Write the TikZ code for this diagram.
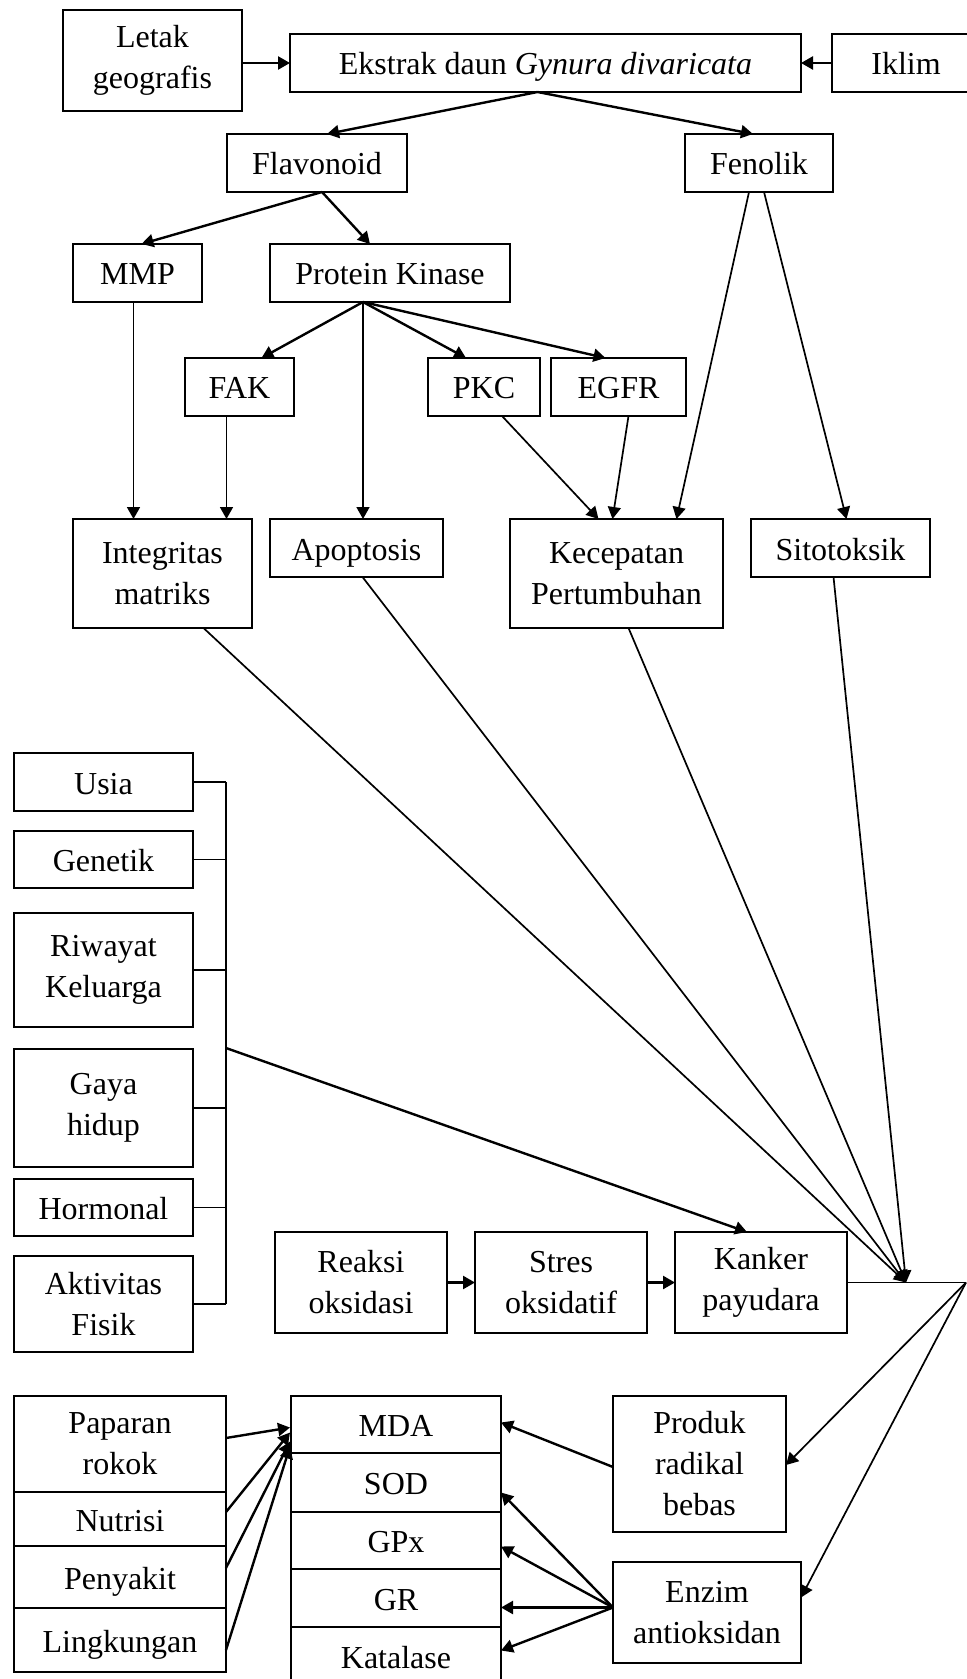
\documentclass[tikz,border=0pt]{standalone}
\usepackage{fontspec}
\setmainfont{Liberation Serif}
\usetikzlibrary{arrows.meta,calc}
\newcommand\bx[7][]{\node[box,#1,minimum width={(#5-#3)*0.5pt},minimum height={(#6-#4)*0.5pt}] (#2) at ({(#3+#5)/2},{(#4+#6)/2}) {#7};}
\begin{document}
\begin{tikzpicture}[x=0.5pt,y=-0.5pt,
  box/.style={draw,line width=0.9pt,inner sep=0pt,outer sep=0pt,align=center,font=\fontsize{16}{20.5}\selectfont},
  sl/.style={text height=13pt,text depth=1pt},
  arr/.style={line width=1.2pt,-{Triangle[length=6pt,width=6.5pt]}},
  tarr/.style={line width=0.85pt,-{Triangle[length=6pt,width=6.5pt]}},
  ln/.style={line width=0.85pt}]
\useasboundingbox (0,0) rectangle (967,1679);
\clip (0,0) rectangle (967,1679);
% boxes
\bx{letak}{63}{10}{242}{111}{Letak\\geografis}
\bx[sl]{ekstrak}{290}{34}{801}{92}{Ekstrak daun \textit{Gynura divaricata}}
\bx[sl]{iklim}{832}{34}{980}{92}{Iklim}
\bx[sl]{flav}{227}{134}{407}{192}{Flavonoid}
\bx[sl]{fenol}{685}{134}{833}{192}{Fenolik}
\bx[sl]{mmp}{73}{244}{202}{302}{MMP}
\bx[sl]{pk}{270}{244}{510}{302}{Protein Kinase}
\bx[sl]{fak}{185}{358}{294}{416}{FAK}
\bx[sl]{pkc}{428}{358}{540}{416}{PKC}
\bx[sl]{egfr}{551}{358}{686}{416}{EGFR}
\bx{integ}{73}{519}{252}{628}{Integritas\\matriks}
\bx[sl]{apop}{270}{519}{443}{577}{Apoptosis}
\bx{kecep}{510}{519}{723}{628}{Kecepatan\\Pertumbuhan}
\bx[sl]{sito}{751}{519}{930}{577}{Sitotoksik}
\bx[sl]{usia}{14}{753}{193}{811}{Usia}
\bx[sl]{genet}{14}{831}{193}{888}{Genetik}
\bx{riwayat}{14}{913}{193}{1027}{Riwayat\\Keluarga}
\bx{gaya}{14}{1049}{193}{1167}{Gaya\\hidup}
\bx[sl]{hormonal}{14}{1179}{193}{1236}{Hormonal}
\bx{aktiv}{14}{1256}{193}{1352}{Aktivitas\\Fisik}
\bx{reaksi}{275}{1232}{447}{1333}{Reaksi\\oksidasi}
\bx{stres}{475}{1232}{647}{1333}{Stres\\oksidatif}
\bx{kanker}{675}{1232}{847}{1333}{Kanker\\payudara}
\bx{paparan}{14}{1396}{226}{1492}{Paparan\\rokok}
\bx[sl]{nutrisi}{14}{1492}{226}{1546}{Nutrisi}
\bx[sl]{penyakit}{14}{1546}{226}{1608}{Penyakit}
\bx[sl]{lingk}{14}{1608}{226}{1672}{Lingkungan}
\bx[sl]{mda}{291}{1396}{501}{1453}{MDA}
\bx[sl]{sod}{291}{1453}{501}{1512}{SOD}
\bx[sl]{gpx}{291}{1512}{501}{1569}{GPx}
\bx[sl]{gr}{291}{1569}{501}{1627}{GR}
\bx[sl]{katal}{291}{1627}{501}{1686}{Katalase}
\bx{produk}{613}{1396}{786}{1532}{Produk\\radikal\\bebas}
\bx{enzim}{613}{1562}{801}{1663}{Enzim\\antioksidan}
% top arrows
\draw[arr] (letak.east |- ekstrak.west) -- (ekstrak.west);
\draw[arr] (iklim.west) -- (ekstrak.east);
\coordinate (eks) at ($(ekstrak.south)+(-8,0)$);
\draw[arr] (eks) -- ($(flav.north)+(10,0)$);
\draw[arr] (eks) -- ($(fenol.north)+(-6,0)$);
\coordinate (fls) at ($(flav.south)+(5,0)$);
\draw[arr] (fls) -- ($(mmp.north)+(4,0)$);
\draw[arr] (fls) -- ($(pk.north)+(-20,0)$);
\coordinate (pks) at ($(pk.south)+(-27,0)$);
\draw[arr] (pks) -- ($(fak.north)+(22,0)$);
\draw[arr] (pks) -- ($(pkc.north)+(-18,0)$);
\draw[arr] (pks) -- ($(egfr.north)+(-13,0)$);
\draw[tarr] (pks) -- (pks |- apop.north);
\coordinate (mms) at ($(mmp.south)+(-4,0)$);
\draw[tarr] (mms) -- (mms |- integ.north);
\coordinate (fks) at ($(fak.south)+(-13,0)$);
\draw[tarr] (fks) -- (fks |- integ.north);
\draw[tarr] ($(fenol.south)+(-10,0)$) -- ($(kecep.north)+(60,0)$);
\draw[tarr] ($(fenol.south)+(5,0)$) -- ($(sito.north)+(6,0)$);
\draw[tarr] ($(pkc.south)+(18,0)$) -- ($(kecep.north)+(-18,0)$);
\draw[tarr] ($(egfr.south)+(10,0)$) -- ($(kecep.north)+(-4,0)$);
% convergence
\coordinate (C) at ($(kanker.east)+(59,0)$);
\coordinate (R) at ($(kanker.east)+(119,0)$);
\draw[tarr] ($(integ.south)+(41,0)$) -- (C);
\draw[tarr] ($(apop.south)+(6,0)$) -- (C);
\draw[tarr] ($(kecep.south)+(12,0)$) -- (C);
\draw[tarr] ($(sito.south)+(-7,0)$) -- (C);
\draw[ln] (kanker.east) -- (R);
\draw[tarr] (R) -- ($(produk.east)+(0,1)$);
\draw[tarr] (R) -- ($(enzim.east)+(0,-15)$);
% bracket
\coordinate (bt) at (usia.east -| 226,0);
\coordinate (bb) at (aktiv.east -| 226,0);
\draw[ln] (bt) -- (bb);
\foreach \n in {usia,genet,riwayat,gaya,hormonal,aktiv}
  \draw[ln] (\n.east) -- (\n.east -| bt);
\coordinate (B) at (bt |- 0,1048);
\draw[arr] (B) -- ($(kanker.north)+(-14,0)$);
% middle row
\draw[arr] (reaksi.east) -- (stres.west);
\draw[arr] (stres.east) -- (kanker.west);
% bottom left
\draw[arr] ($(paparan.east)+(0,-6)$) -- ($(mda.west)+(-1,3)$);
\draw[arr] ($(nutrisi.north east)+(0,20)$) -- ($(mda.west)+(-1,8)$);
\draw[arr] ($(penyakit.north east)+(0,22)$) -- ($(mda.west)+(-1,17)$);
\draw[arr] ($(lingk.east)+(0,10)$) -- ($(mda.west)+(-1,22)$);
% bottom right
\draw[arr] ($(produk.west)+(0,3)$) -- ($(mda.east)+(0,-2)$);
\coordinate (E) at ($(enzim.west)+(0,-5)$);
\draw[arr] (E) -- ($(sod.east)+(0,10)$);
\draw[arr] (E) -- ($(gpx.east)+(0,6)$);
\draw[arr] (E) -- (E -| gr.east);
\draw[arr] (E) -- ($(katal.east)+(0,-6)$);
\end{tikzpicture}
\end{document}
